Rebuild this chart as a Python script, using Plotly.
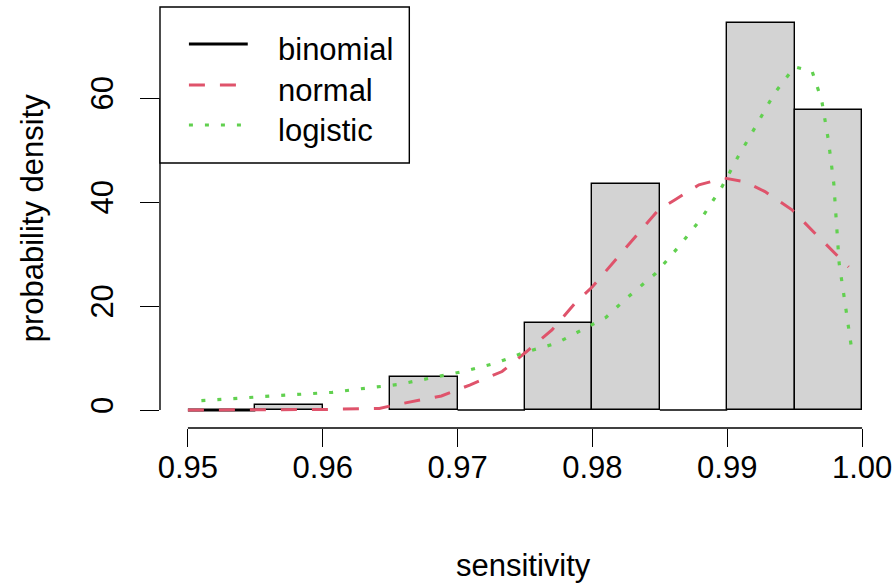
import plotly.graph_objects as go

# ---- data ----
bin_left = [0.950, 0.955, 0.960, 0.965, 0.970, 0.975, 0.980, 0.985, 0.990, 0.995]
bin_width = 0.005
density = [0.0, 0.9, 0.0, 6.3, 0.0, 16.8, 43.5, 0.0, 74.4, 57.7]

binom_x = [0.950, 0.955]
binom_y = [0.0, 0.0]

normal_x = [0.950, 0.955, 0.960, 0.9642, 0.9654, 0.9688, 0.9709, 0.9733, 0.9751, 0.9770,
            0.9787, 0.9800, 0.9817, 0.9834, 0.9849, 0.9861, 0.9879, 0.9898, 0.9913,
            0.9928, 0.9948, 0.9965, 0.9985, 0.9990]
normal_y = [0.0, 0.0, 0.1, 0.3, 1.0, 2.7, 4.8, 7.4, 11.2, 15.4,
            20.5, 23.7, 28.8, 34.0, 38.5, 40.4, 43.3, 44.6, 43.9,
            42.0, 38.5, 34.0, 28.8, 27.5]

logis_x = [0.9510, 0.9538, 0.9563, 0.9588, 0.9607, 0.9632, 0.9656, 0.9679, 0.9704, 0.9728,
           0.9751, 0.9773, 0.9795, 0.9810, 0.9824, 0.9847, 0.9864, 0.9881, 0.9896, 0.9908,
           0.9921, 0.9935, 0.9950, 0.9963, 0.9970, 0.9975, 0.9979, 0.9981, 0.9983,
           0.9987, 0.9992]
logis_y = [1.8, 2.2, 2.7, 3.1, 3.4, 4.2, 4.9, 6.1, 7.4, 9.0,
           11.2, 12.8, 15.7, 17.8, 21.2, 26.3, 31.4, 36.9, 42.9, 48.7,
           54.5, 60.9, 66.0, 65.1, 59.6, 51.9, 43.6, 35.3, 28.2,
           21.2, 12.2]

x_ticks = [0.95, 0.96, 0.97, 0.98, 0.99, 1.00]
x_ticklabels = ["0.95", "0.96", "0.97", "0.98", "0.99", "1.00"]
y_ticks = [0, 20, 40, 60]
legend_names = ["binomial", "normal", "logistic"]

RED = "#DF536B"
GREEN = "#61D04F"
FONT = "Liberation Sans, Arial, sans-serif"
FS = 31

fig = go.Figure()

# histogram bars (non-zero)
bx = [l + bin_width / 2 for l, d in zip(bin_left, density) if d > 0]
by = [d for d in density if d > 0]
fig.add_trace(go.Bar(x=bx, y=by, width=bin_width, marker=dict(color="#D3D3D3",
                     line=dict(color="black", width=1.4)), showlegend=False))

# empty bins drawn as zero-height outlines
zx, zy = [], []
for l, d in zip(bin_left, density):
    if d == 0 and l not in (0.950, 0.960):
        zx += [l, l + bin_width, None]
        zy += [0, 0, None]
fig.add_trace(go.Scatter(x=zx, y=zy, mode="lines", line=dict(color="black", width=1.4),
                         showlegend=False, hoverinfo="skip"))

fig.add_trace(go.Scatter(x=binom_x, y=binom_y, mode="lines",
                         line=dict(color="black", width=3), showlegend=False))
fig.add_trace(go.Scatter(x=normal_x, y=normal_y, mode="lines",
                         line=dict(color=RED, width=3, dash="16px,15px"), showlegend=False))
fig.add_trace(go.Scatter(x=logis_x, y=logis_y, mode="lines",
                         line=dict(color=GREEN, width=3.2, dash="4px,12px"), showlegend=False))

# plot region in pixels: x 160..892, y 7..428
W, H = 896, 585
L, R, T, B = 160, 4, 7, 157
pw, ph = W - L - R, H - T - B

def px(x):
    return (x - L) / pw

def py(y):
    return (H - B - y) / ph

shapes = []
# axis lines (R style)
shapes.append(dict(type="line", xref="x", yref="paper", x0=x_ticks[0], x1=x_ticks[-1],
                   y0=0, y1=0, line=dict(color="black", width=1.4)))
shapes.append(dict(type="line", xref="paper", yref="y", x0=0, x1=0,
                   y0=y_ticks[0], y1=y_ticks[-1], line=dict(color="black", width=1.4)))

# manual legend
shapes.append(dict(type="rect", xref="paper", yref="paper", x0=px(160), x1=px(410),
                   y0=py(163), y1=py(7), line=dict(color="black", width=1.4),
                   fillcolor="white", layer="above"))
leg_styles = [dict(color="black", width=3), dict(color=RED, width=3, dash="16px,15px"),
              dict(color=GREEN, width=3.2, dash="4px,12px")]
leg_rows = [44, 85, 125]
annotations = []
for name, st, ry in zip(legend_names, leg_styles, leg_rows):
    shapes.append(dict(type="line", xref="paper", yref="paper", x0=px(189), x1=px(248),
                       y0=py(ry), y1=py(ry), line=st, layer="above"))
    annotations.append(dict(text=name, xref="paper", yref="paper", x=px(276), y=py(ry + 5),
                            xanchor="left", yanchor="middle", showarrow=False,
                            font=dict(size=FS, color="black", family=FONT)))

annotations.append(dict(text="sensitivity", xref="paper", yref="paper", x=px(524), y=py(565),
                        xanchor="center", yanchor="middle", showarrow=False,
                        font=dict(size=FS, color="black", family=FONT)))
annotations.append(dict(text="probability density", xref="paper", yref="paper", x=px(32),
                        y=py(218), xanchor="center", yanchor="middle", showarrow=False,
                        textangle=-90, font=dict(size=FS, color="black", family=FONT)))

fig.update_layout(
    width=W, height=H,
    margin=dict(l=L, r=R, t=T, b=B, pad=0),
    plot_bgcolor="white", paper_bgcolor="white",
    font=dict(family=FONT, size=FS, color="black"),
    bargap=0,
    shapes=shapes, annotations=annotations,
    xaxis=dict(range=[0.94793, 1.00207], showgrid=False, zeroline=False, showline=False,
               ticks="outside", ticklen=18, tickwidth=1.4, tickcolor="black",
               tickvals=x_ticks, ticktext=x_ticklabels, tickfont=dict(size=FS),
               ticklabelstandoff=-6),
    yaxis=dict(range=[-3.46, 77.5], showgrid=False, zeroline=False, showline=False,
               ticks="outside", ticklen=19, tickwidth=1.4, tickcolor="black",
               tickvals=y_ticks, tickangle=-90, tickfont=dict(size=FS),
               ticklabelstandoff=15),
)

fig.write_html("out.html")
